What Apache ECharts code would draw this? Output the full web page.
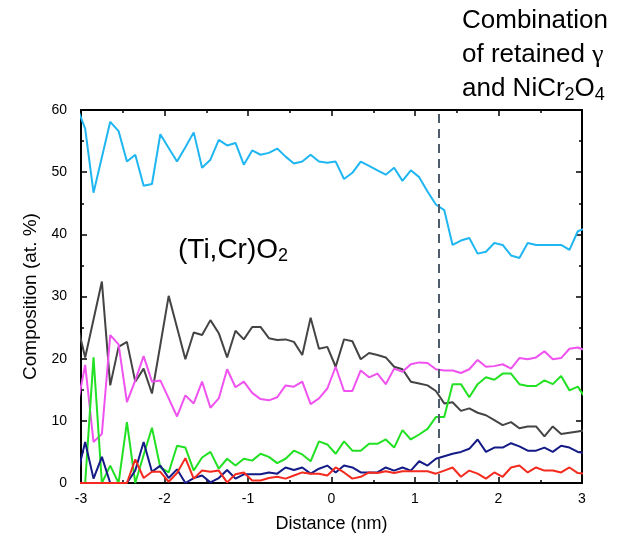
<!DOCTYPE html>
<html>
<head>
<meta charset="utf-8">
<script src="https://cdn.jsdelivr.net/npm/echarts@6/dist/echarts.min.js"></script>
<style>
  html, body { margin: 0; padding: 0; background: #fff; }
  #chart { width: 628px; height: 540px; }
</style>
</head>
<body>
<div id="chart"></div>
<script>
// distance positions (nm), the edge points fall just outside the axis and get clipped
const distance = [
  -3.05, -2.95, -2.85, -2.75, -2.65, -2.55, -2.45, -2.35, -2.25, -2.15, -2.05,
  -1.95, -1.85, -1.75, -1.65, -1.55, -1.45, -1.35, -1.25, -1.15, -1.05,
  -0.95, -0.85, -0.75, -0.65, -0.55, -0.45, -0.35, -0.25, -0.15, -0.05,
  0.05, 0.15, 0.25, 0.35, 0.45, 0.55, 0.65, 0.75, 0.85, 0.95,
  1.05, 1.15, 1.25, 1.35, 1.45, 1.55, 1.65, 1.75, 1.85, 1.95,
  2.05, 2.15, 2.25, 2.35, 2.45, 2.55, 2.65, 2.75, 2.85, 2.95, 3.05
];

const cyanVals = [
  60.5, 57, 46.7, 52.4, 58.1, 56.6, 51.7, 52.8, 47.8, 48.1, 56.1,
  53.9, 51.7, 54.0, 56.4, 50.7, 52.0, 55.2, 54.3, 54.7, 51.2,
  53.5, 52.8, 53.1, 53.8, 52.5, 51.4, 51.7, 52.8, 51.7, 51.5,
  51.7, 48.9, 49.9, 51.7, 51.0, 50.3, 49.6, 50.7, 48.6, 50.3,
  49.2, 46.9, 44.8, 43.9, 38.3, 39.0, 39.4, 36.9, 37.2, 38.6,
  38.3, 36.6, 36.2, 38.6, 38.3, 38.3, 38.3, 38.3, 37.5, 40.5, 41
];

const grayVals = [
  25.8, 20.2, 26.3, 32.4, 15.7, 21.9, 22.7, 16.3, 18.4, 14.4, 22.2,
  30.1, 25.0, 19.9, 24.2, 23.8, 26.2, 24.1, 20.2, 24.5, 23.1,
  25.1, 25.1, 23.3, 23.0, 23.1, 22.7, 20.6, 26.6, 21.6, 21.9,
  18.7, 23.1, 22.8, 19.9, 20.9, 20.6, 20.2, 18.7, 18.3, 16.3,
  16.0, 15.7, 14.8, 12.8, 13.0, 11.6, 12.0, 11.3, 10.9, 10.1,
  9.3, 9.8, 8.8, 9.1, 9.1, 7.5, 9.1, 7.9, 8.1, 8.3, 8.5
];

const magentaVals = [
  12, 19.0, 6.6, 7.9, 23.8, 22.3, 13.0, 16.5, 20.4, 16.3, 16.5,
  13.6, 10.7, 14.1, 12.8, 16.3, 12.1, 13.6, 18.3, 15.4, 16.3,
  14.5, 13.5, 13.3, 13.8, 15.7, 15.5, 16.3, 12.7, 13.6, 15.2,
  18.7, 14.8, 14.8, 18.1, 17.0, 17.6, 15.9, 18.4, 17.9, 19.1,
  19.4, 19.3, 18.3, 18.1, 18.1, 17.7, 18.3, 19.8, 18.7, 18.8,
  19.1, 18.4, 20.1, 19.9, 20.2, 21.2, 19.9, 20.1, 21.6, 21.8, 21.3
];

const greenVals = [
  0, 0, 20.2, 0, 2.8, 0, 9.8, 0, 4.5, 8.9, 2.5,
  1.7, 6.0, 5.7, 2.0, 4.1, 5.0, 2.3, 3.9, 2.8, 3.9,
  3.6, 4.7, 4.2, 3.2, 3.9, 5.2, 4.6, 3.5, 6.7, 6.2,
  4.7, 6.7, 5.2, 5.2, 6.3, 6.3, 7.0, 5.7, 8.5, 7.0,
  7.8, 8.7, 10.6, 10.6, 15.9, 15.9, 13.8, 15.9, 17.0, 16.6,
  17.6, 17.6, 15.9, 15.6, 15.6, 16.5, 15.9, 17.2, 14.9, 15.5, 13.5
];

const navyVals = [
  1, 6.6, 0.7, 4.2, 0, 0, 0, 2.0, 6.6, 1.8, 2.8,
  0.8, 2.2, 0, 0.8, 1.2, 0.1, 0.8, 2.1, 0.7, 1.4,
  1.4, 1.4, 1.7, 1.5, 2.5, 2.1, 2.5, 1.5, 2.3, 2.8,
  1.7, 2.8, 2.5, 1.7, 1.7, 1.7, 2.5, 2.0, 2.5, 2.0,
  3.5, 2.8, 3.9, 4.3, 4.7, 5.0, 5.5, 7.0, 5.0, 5.7,
  5.7, 6.4, 5.9, 5.2, 5.2, 5.7, 5.0, 6.0, 5.7, 5.0, 4.8
];

const redVals = [
  0, 0, 0, 0, 0, 0, 0, 3.8, 0.8, 1.8, 1.8,
  0.2, 1.6, 4.0, 0.7, 2.0, 1.8, 2.0, 0.1, 1.4, 1.7,
  0.4, 0.4, 0.8, 1.0, 0.7, 1.2, 1.7, 1.5, 1.5, 1.2,
  2.5, 1.7, 0.7, 1.0, 1.7, 1.6, 1.9, 1.6, 1.9, 1.9,
  1.9, 1.9, 1.5, 2.0, 2.5, 1.0, 2.0, 1.5, 0.7, 1.7,
  1.0, 2.5, 2.8, 1.7, 2.5, 2.0, 2.0, 1.7, 2.5, 1.6, 1.5
];

// boundary between the oxide and the gamma + spinel region
const boundaryX = 1.28;

const xTicks = [-3, -2, -1, 0, 1, 2, 3];
const yTicks = [0, 10, 20, 30, 40, 50, 60];

const chart = echarts.init(document.getElementById("chart"));

const font = "Liberation Sans, Arial, sans-serif";

function pairs(vals) {
  return distance.map((d, i) => [d, vals[i]]);
}

function lineSeries(name, vals, color) {
  return {
    name: name,
    type: "line",
    data: pairs(vals),
    showSymbol: false,
    clip: true,
    lineStyle: { color: color, width: 2 },
    itemStyle: { color: color },
  };
}

const frameAxis = {
  axisLine: { show: true, onZero: false, lineStyle: { color: "#000", width: 2 } },
  axisTick: { show: true, inside: true, length: 6, lineStyle: { color: "#000", width: 1.5 } },
  minorTick: { show: true, splitNumber: 2, length: 3, lineStyle: { color: "#000", width: 1.5 } },
  splitLine: { show: false },
};

const series = [
  lineSeries("Ti", cyanVals, "#1fb6f1"),
  lineSeries("O", grayVals, "#444444"),
  lineSeries("Cr", magentaVals, "#f052f0"),
  lineSeries("Ni", greenVals, "#22e022"),
  lineSeries("Fe", navyVals, "#141a86"),
  lineSeries("Other", redVals, "#f42a1e"),
];

series[0].markLine = {
  silent: true,
  symbol: ["none", "none"],
  label: { show: false },
  lineStyle: { color: "#4d5b6b", width: 2, type: [9, 6] },
  data: [{ xAxis: boundaryX }],
};

chart.setOption({
  animation: false,
  grid: { left: 81, right: 46, top: 110, bottom: 57 },
  xAxis: [
    Object.assign({}, frameAxis, {
      type: "value",
      min: xTicks[0],
      max: xTicks[xTicks.length - 1],
      interval: 1,
      position: "bottom",
      name: "Distance (nm)",
      nameLocation: "middle",
      nameGap: 32,
      nameTextStyle: { fontFamily: font, fontSize: 18, color: "#000" },
      axisLabel: { fontFamily: font, fontSize: 14, color: "#000", margin: 9 },
    }),
    Object.assign({}, frameAxis, {
      type: "value",
      min: xTicks[0],
      max: xTicks[xTicks.length - 1],
      interval: 1,
      position: "top",
      axisLabel: { show: false },
    }),
  ],
  yAxis: [
    Object.assign({}, frameAxis, {
      type: "value",
      min: yTicks[0],
      max: yTicks[yTicks.length - 1],
      interval: 10,
      position: "left",
      name: "Composition (at. %)",
      nameLocation: "middle",
      nameGap: 37,
      nameTextStyle: { fontFamily: font, fontSize: 19, color: "#000" },
      axisLabel: { fontFamily: font, fontSize: 14, color: "#000", margin: 14 },
    }),
    Object.assign({}, frameAxis, {
      type: "value",
      min: yTicks[0],
      max: yTicks[yTicks.length - 1],
      interval: 10,
      position: "right",
      axisLabel: { show: false },
    }),
  ],
  graphic: [
    {
      type: "text",
      left: 178,
      top: 236,
      style: {
        text: "(Ti,Cr)O{sub|2}",
        font: "28px " + font,
        fill: "#000",
        rich: {
          sub: { fontFamily: font, fontSize: 18, fill: "#000", padding: [13, 0, 0, 0] },
        },
      },
    },
    {
      type: "text",
      left: 462,
      top: 4,
      style: {
        text: "Combination\nof retained {g|γ}\nand NiCr{sub|2}O{sub|4}",
        font: "26px " + font,
        lineHeight: 34,
        fill: "#000",
        rich: {
          g: { fontFamily: "Liberation Serif, serif", fontSize: 26, fill: "#000", lineHeight: 34 },
          sub: { fontFamily: font, fontSize: 18, fill: "#000", padding: [12, 0, 0, 0], lineHeight: 34 },
        },
      },
    },
  ],
  series: series,
});
</script>
</body>
</html>
